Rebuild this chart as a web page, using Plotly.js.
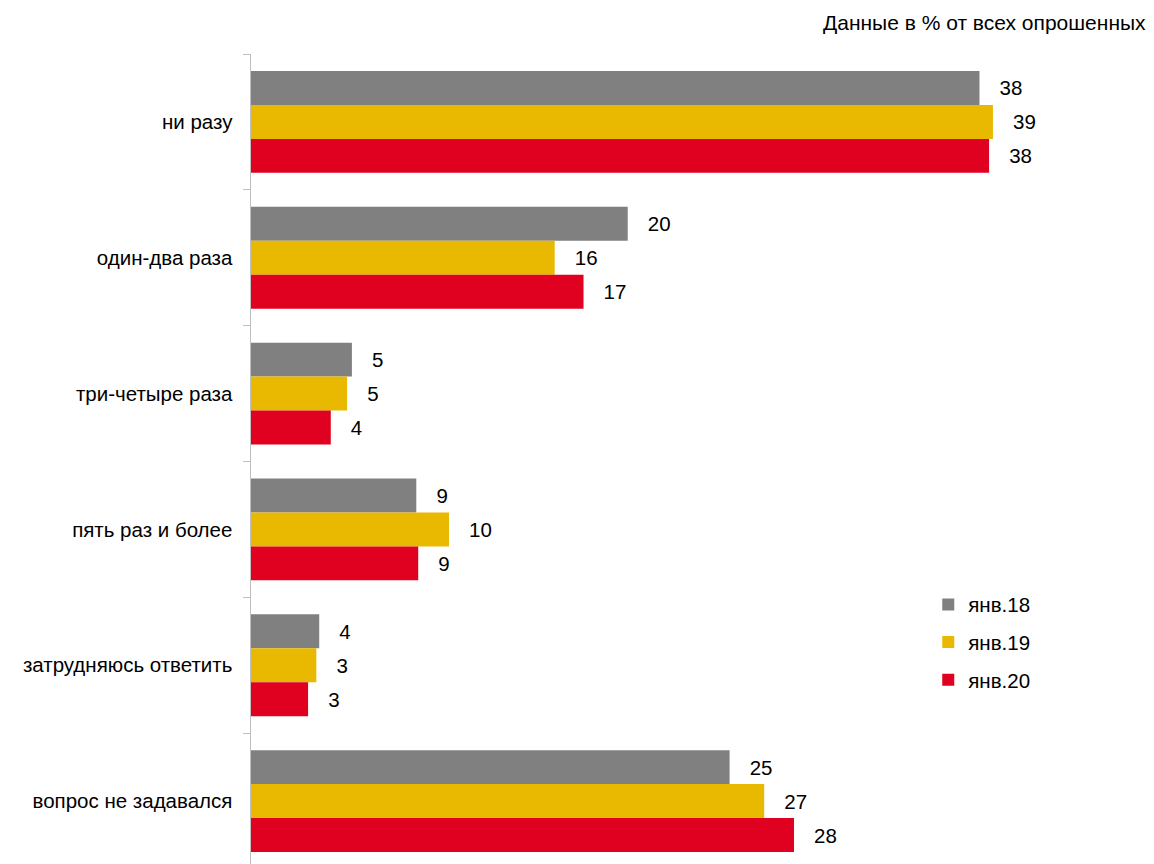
<!DOCTYPE html>
<html>
<head>
<meta charset="utf-8">
<script src="https://cdn.plot.ly/plotly-3.0.1.min.js"></script>
<style>
html,body{margin:0;padding:0;overflow:hidden;background:#fff;}
#chart{width:1154px;height:864px;}
</style>
</head>
<body>
<div id="chart"></div>
<script>
const categories = ["ни разу", "один-два раза", "три-четыре раза", "пять раз и более", "затрудняюсь ответить", "вопрос не задавался"];
const seriesNames = ["янв.18", "янв.19", "янв.20"];
const jan18 = [37.9, 19.6, 5.25, 8.6, 3.55, 24.9];
const jan19 = [38.6, 15.8, 5.0, 10.3, 3.4, 26.7];
const jan20 = [38.4, 17.3, 4.15, 8.7, 2.97, 28.25];
const colors = ["#808080", "#E8B900", "#E0001F"];
const noteText = "Данные в % от всех опрошенных";

const font = "Liberation Sans, Arial, sans-serif";
const fs = 20.5;
const allSeries = [jan18, jan19, jan20];
const traces = allSeries.map((vals, i) => ({
  type: "bar",
  orientation: "h",
  name: seriesNames[i],
  legendgroup: "g" + i,
  x: vals,
  y: categories,
  marker: {color: colors[i], line: {width: 0}},
  texttemplate: "\u00a0\u00a0\u00a0%{x:.0f}",
  textposition: "outside",
  textfont: {family: font, size: fs, color: "#000"},
  constraintext: "none",
  cliponaxis: false,
  hoverinfo: "x+name"
}));

const layout = {
  width: 1154,
  height: 864,
  margin: {l: 251, r: 0, t: 54, b: 0},
  paper_bgcolor: "#fff",
  plot_bgcolor: "#fff",
  barmode: "group",
  bargap: 0.25,
  bargroupgap: 0,
  font: {family: font, size: fs, color: "#000"},
  xaxis: {
    range: [0, 46.98],
    visible: false,
    showgrid: false,
    zeroline: false
  },
  yaxis: {
    type: "category",
    range: [5.4632, -0.5],
    showline: true,
    linecolor: "#BFBFBF",
    linewidth: 1.5,
    ticks: "outside",
    tickson: "boundaries",
    ticklen: 7,
    tickcolor: "#BFBFBF",
    tickwidth: 1,
    ticklabelstandoff: 13,
    showgrid: false,
    zeroline: false,
    tickfont: {family: font, size: fs, color: "#000"}
  },
  showlegend: true,
  legend: {
    x: 0.75,
    y: 0.345,
    xanchor: "left",
    yanchor: "top",
    traceorder: "grouped",
    tracegroupgap: 8,
    font: {family: font, size: fs, color: "#000"},
    bgcolor: "rgba(0,0,0,0)"
  },
  annotations: [{
    text: noteText,
    xref: "paper", yref: "paper",
    x: 0.9934, y: 1.0395,
    xanchor: "right", yanchor: "middle",
    showarrow: false,
    font: {family: font, size: 21, color: "#000"}
  }]
};

Plotly.newPlot("chart", traces, layout, {displayModeBar: false, staticPlot: true});
</script>
</body>
</html>
